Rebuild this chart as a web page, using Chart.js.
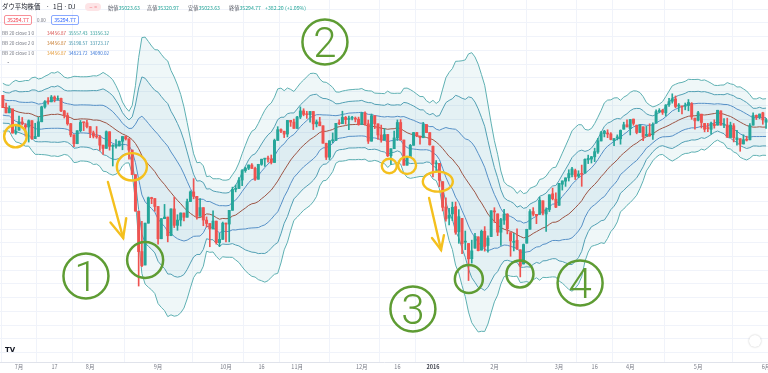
<!DOCTYPE html>
<html lang="ja"><head><meta charset="utf-8">
<script src="https://cdn.jsdelivr.net/npm/chart.js@4.4.1/dist/chart.umd.min.js"></script>
<style>
html,body{margin:0;padding:0;background:#fff;overflow:hidden}
#wrap{position:relative;width:768px;height:373px;font-family:'Noto Sans CJK JP','Noto Sans',sans-serif}
#c{position:absolute;left:0;top:0}
.t{position:absolute;white-space:nowrap;line-height:1}
.l{color:#5d606b}
.g{color:#26a69a}
.box{position:absolute;box-sizing:border-box;border-radius:2px;text-align:center;white-space:nowrap}
</style></head><body>
<div id="wrap">
<canvas id="c" width="768" height="373"></canvas>
<div class="t" style="left:2px;top:4px;font-size:6.4px;color:#131722">ダウ平均株価</div>
<div class="t" style="left:46px;top:4px;font-size:6.4px;color:#131722">·</div>
<div class="t" style="left:53px;top:4px;font-size:6.4px;color:#131722">1日</div>
<div class="t" style="left:63.5px;top:4px;font-size:6.4px;color:#131722">·</div>
<div class="t" style="left:68px;top:4px;font-size:6.4px;color:#131722">DJ</div>
<div class="box" style="left:85px;top:3px;width:16px;height:8px;border-radius:4px;background:#fde4e6;color:#f23645;font-size:5px;line-height:8px">∼ =</div>
<div class="t" style="left:108px;top:4.7px;font-size:5.2px"><span class="l">始値</span><span class="g">35023.63</span></div>
<div class="t" style="left:147px;top:4.7px;font-size:5.2px"><span class="l">高値</span><span class="g">35320.97</span></div>
<div class="t" style="left:188px;top:4.7px;font-size:5.2px"><span class="l">安値</span><span class="g">35023.63</span></div>
<div class="t" style="left:229px;top:4.7px;font-size:5.2px"><span class="l">終値</span><span class="g">35294.77</span></div>
<div class="t g" style="left:265px;top:4.7px;font-size:5.2px">+382.20 (+1.09%)</div>
<div class="box" style="left:4px;top:15px;width:28px;height:10px;border:1px solid rgba(242,54,69,0.55);color:#f23645;font-size:5.2px;line-height:8px">35294.77</div>
<div class="t" style="left:37px;top:18px;font-size:4.5px;color:#787b86">0.00</div>
<div class="box" style="left:51px;top:15px;width:28px;height:10px;border:1px solid rgba(41,98,255,0.55);color:#2962ff;font-size:5.2px;line-height:8px">35294.77</div>
<div class="t" style="left:2px;top:30.7px;font-size:4.7px;color:#787b86">BB 20 close 3 0</div>
<div class="t" style="left:47px;top:30.7px;font-size:4.6px;color:#d9534f">34456.87</div>
<div class="t" style="left:68.5px;top:30.7px;font-size:4.6px;color:#2f9c9a">35557.43</div>
<div class="t" style="left:90px;top:30.7px;font-size:4.6px;color:#2f9c9a">33356.32</div>
<div class="t" style="left:2px;top:40.7px;font-size:4.7px;color:#787b86">BB 20 close 2 0</div>
<div class="t" style="left:47px;top:40.7px;font-size:4.6px;color:#c77c2e">34456.87</div>
<div class="t" style="left:68.5px;top:40.7px;font-size:4.6px;color:#3a8fa8">35190.57</div>
<div class="t" style="left:90px;top:40.7px;font-size:4.6px;color:#3a8fa8">33723.17</div>
<div class="t" style="left:2px;top:50.7px;font-size:4.7px;color:#787b86">BB 20 close 1 0</div>
<div class="t" style="left:47px;top:50.7px;font-size:4.6px;color:#e39b3a">34456.87</div>
<div class="t" style="left:68.5px;top:50.7px;font-size:4.6px;color:#3c78d8">34823.72</div>
<div class="t" style="left:90px;top:50.7px;font-size:4.6px;color:#3c78d8">34090.02</div>
<div class="t" style="left:7px;top:61px;font-size:6px;color:#787b86">ˆ</div>
<div class="t" style="left:5px;top:347px;font-size:7px;font-weight:bold;color:#131722;font-family:'DejaVu Sans',sans-serif">TV</div>
<div class="box" style="left:749px;top:335px;width:12px;height:12px;border-radius:6px;background:#fff;box-shadow:0 0 2px rgba(0,0,0,0.25)"></div>
</div>
<script>
// ---- data (Dow daily, 2015-06-24 .. 2016-06-01) ----
// closes of the 19 sessions before the first visible bar (needed for the 20-day bands)
const warmupCloses = [18126,18011,18040,18011,18076,17905,17849,17766,17765,18000,18039,17899,17791,17905,17935,18115,17985,18120,18144];

const opens = [
18144,17966,17890,17947,17596,
17638,17758,17707,17684,17776,17515,17548,17760,17977,18053,18050,18120,18086,18100,17919,17851,17732,17569,17441,17630,17751,17746,
17690,17599,17551,17540,17420,17373,17615,17402,17403,17409,17477,17546,17512,17349,16991,16459,15872,15676,16285,16655,16643,
16528,16058,16351,16374,16102,16492,16253,16330,16433,16371,16599,16740,16675,16385,16511,16330,16280,16201,16315,16001,16049,
16285,16272,16472,16777,16790,16912,17050,17084,17131,17082,16924,17141,17216,17230,17218,17168,17489,17646,17623,17581,17780,17756,
17664,17829,17918,17868,17863,17910,17730,17758,17702,17448,17245,17484,17490,17738,17733,17824,17792,17812,17813,17798,
17720,17888,17730,17478,17848,17730,17568,17493,17575,17265,17368,17525,17750,17495,17128,17252,17418,17603,17552,17528,17720,17603,
17405,17147,17155,16889,16520,16358,16420,16526,16159,16354,16009,15989,15768,15921,16086,15893,16168,15960,16090,
16451,16420,16153,16329,16417,16147,16005,16036,15897,15691,15994,16196,16454,16414,16413,16610,16418,16484,16712,16634,
16545,16851,16896,16945,16991,17050,16969,17006,17014,17207,17217,17250,17321,17481,17589,17598,17583,17485,17526,17512,17652,17716,
17661,17799,17711,17605,17687,17555,17586,17571,17741,17905,17925,17890,18012,18059,18092,17987,17990,17987,17996,18023,17813,
17783,17871,17736,17664,17650,17726,17711,17919,17711,17713,17531,17702,17501,17514,17437,17507,17498,17711,17853,17826,17891,
17754];
const highs = [
18144,18034,17990,17947,17705,
17843,17823,17733,17787,17776,17739,17828,17987,18070,18113,18143,18137,18137,18105,17925,17888,17737,17569,17631,17779,17756,17780,
17690,17625,17691,17563,17420,17627,17615,17428,17500,17480,17546,17552,17512,17349,16991,16459,16312,16285,16666,16662,16643,
16528,16352,16558,16374,16494,16664,16408,16434,16433,16634,16755,16933,16675,16643,16511,16376,16280,16465,16315,16138,16301,
16285,16472,16809,16839,16949,17065,17101,17132,17151,17100,17142,17216,17230,17260,17277,17508,17689,17659,17623,17780,17780,17799,
17840,17977,17950,17913,17910,17910,17786,17825,17702,17448,17484,17598,17738,17788,17914,17838,17843,17841,17830,17828,
17896,17906,17785,17873,17848,17730,17712,17662,17575,17368,17624,17787,17792,17495,17256,17431,17605,17606,17552,17751,17720,17603,
17405,17196,17155,16889,16652,16500,16591,16593,16482,16354,16171,15989,16038,16136,16086,16185,16235,16102,16466,
16510,16420,16356,16485,16423,16147,16136,16201,15897,15982,16196,16484,16511,16414,16664,16610,16507,16698,16795,16726,
16865,16900,16944,17062,17099,17072,17048,17130,17220,17275,17256,17376,17521,17621,17636,17644,17602,17516,17570,17642,17754,17790,
17793,17800,17711,17716,17687,17694,17731,17744,17933,17951,17943,18009,18103,18167,18136,18026,17990,18033,18084,18039,17814,
17911,17871,17736,17737,17755,17789,17928,17919,17806,17813,17755,17734,17634,17514,17571,17550,17734,17891,17860,17873,17899,
17809];
const lows = [
17965,17888,17890,17596,17578,
17638,17714,17551,17465,17504,17515,17548,17760,17958,18018,18050,18049,18073,17909,17815,17711,17542,17399,17441,17613,17632,17669,
17530,17525,17520,17345,17285,17373,17347,17117,17375,17407,17353,17494,17215,16990,16459,15370,15651,15676,16285,16569,16458,
15980,16058,16351,16013,16102,16221,16181,16244,16318,16371,16599,16639,16344,16385,16248,16228,15942,16201,15980,15943,16049,
16013,16013,16472,16740,16790,16831,17025,17064,17080,16906,16924,17127,17111,17174,17146,17168,17489,17600,17530,17540,17693,17664,
17664,17806,17847,17810,17754,17647,17685,17702,17448,17210,17210,17454,17485,17718,17733,17725,17646,17788,17758,17710,
17720,17712,17444,17478,17661,17502,17463,17493,17253,17139,17368,17488,17494,17128,17128,17252,17418,17543,17436,17528,17601,17421,
16957,17038,16817,16463,16314,16258,16322,16123,15992,15842,15900,15450,15704,15921,15881,15893,15878,15863,16090,
16295,16103,15960,16266,16129,15803,15881,15899,15503,15691,15994,16196,16390,16278,16413,16404,16165,16454,16623,16510,
16545,16766,16820,16898,16957,16920,16947,16821,17014,17152,17160,17180,17300,17481,17540,17529,17497,17412,17496,17434,17652,17685,
17568,17710,17585,17601,17484,17555,17548,17503,17741,17890,17867,17843,17984,18031,17963,17908,17875,17934,17920,17796,17652,
17773,17670,17614,17615,17580,17667,17711,17711,17673,17534,17531,17467,17418,17331,17437,17480,17498,17711,17793,17803,17724,
17664];
const closes = [
17966,17890,17947,17596,17620,
17758,17730,17684,17776,17515,17548,17760,17977,18053,18050,18120,18086,18100,17919,17851,17731,17569,17441,17630,17751,17746,17690,
17599,17551,17540,17420,17373,17615,17402,17403,17409,17477,17546,17512,17349,16991,16460,15871,15666,16285,16655,16643,16528,
16058,16351,16374,16102,16492,16253,16330,16433,16371,16599,16740,16675,16385,16511,16330,16280,16201,16315,16001,16049,16285,
16272,16472,16777,16790,16912,17050,17084,17131,17082,16924,17141,17216,17230,17218,17168,17489,17646,17623,17581,17780,17756,17664,
17829,17918,17868,17863,17910,17730,17758,17702,17448,17245,17484,17490,17738,17733,17824,17792,17812,17813,17798,17720,
17888,17730,17478,17848,17730,17568,17493,17575,17265,17368,17525,17750,17495,17128,17252,17418,17603,17552,17528,17720,17603,17425,
17149,17158,16907,16515,16347,16399,16516,16152,16380,15988,16016,15766,15882,16094,15885,16167,15944,16069,16466,
16449,16154,16337,16417,16205,16027,16014,15914,15660,15974,16196,16454,16414,16392,16620,16432,16485,16698,16640,16517,
16865,16900,16944,17007,17074,16964,17000,16995,17213,17229,17251,17326,17481,17602,17623,17582,17503,17516,17536,17634,17717,17685,
17793,17737,17604,17716,17542,17577,17556,17721,17908,17926,17897,18004,18053,18096,17983,18004,17977,17990,18041,17831,17774,
17891,17750,17651,17660,17740,17705,17928,17711,17720,17535,17711,17530,17526,17435,17500,17492,17706,17851,17828,17873,17787,
17789];

// x-axis ticks: bar index of each labelled session, and its label
const tickIndex  = [5, 16, 27, 48, 69, 80, 91, 111, 122, 133, 152, 172, 183, 194, 215, 236];
const tickLabels = ['7月','17','8月','9月','10月','16','11月','12月','16','2016','2月','3月','16','4月','5月','6月'];

// Bollinger settings (period, multipliers)
const bbPeriod = 20;
const bbMults = [3, 2, 1];

// annotations (data space: bar index, price)
const yellowRings = [
  {i:3.9, p:17550, rx:11.3, ry:11.2},
  {i:39.9, p:17105, rx:15, ry:13.7},
  {i:119.5, p:17117, rx:7.5, ry:7.2},
  {i:125.0, p:17127, rx:9, ry:8.7},
  {i:134.5, p:16890, rx:15, ry:10}
];
const greenRings = [
  {i:44.0, p:15749, r:18},
  {i:144.1, p:15473, r:14},
  {i:159.9, p:15546, r:13.5}
];
const stepMarks = [
  {t:'1', i:25.7, p:15516},
  {t:'2', i:99.6, p:18921},
  {t:'3', i:126.8, p:15036},
  {t:'4', i:178.5, p:15415}
];
const arrows = [
  {i0:32.5, p0:16884, i1:37.2, p1:16069, head:20},
  {i0:131.8, p0:16651, i1:135.5, p1:15895, head:15}
];

// ---- build ----
const UP = '#26a69a', DOWN = '#ef5350';
const allCloses = warmupCloses.concat(closes);
const off = warmupCloses.length;
function bands(mult){
  const up = [], lo = [], mid = [];
  for (let i = 0; i < closes.length; i++) {
    const w = allCloses.slice(i + off - bbPeriod + 1, i + off + 1);
    const m = w.reduce((a,b)=>a+b,0) / w.length;
    const sd = Math.sqrt(w.reduce((a,b)=>a+(b-m)*(b-m),0) / w.length);
    mid.push({x:i, y:m}); up.push({x:i, y:m+mult*sd}); lo.push({x:i, y:m-mult*sd});
  }
  return {up, lo, mid};
}
const b3 = bands(bbMults[0]), b2 = bands(bbMults[1]), b1 = bands(bbMults[2]);
const isUp = i => closes[i] >= opens[i];
const candleColor = c => isUp(c.dataIndex) ? UP : DOWN;

const lineBase = {type:'line', pointRadius:0, borderWidth:1, tension:0};
const datasets = [
  {type:'bar', data: closes.map((_,i)=>({x:i, y:[lows[i], highs[i]]})), backgroundColor:candleColor, barThickness:1, grouped:false, order:1},
  {type:'bar', data: closes.map((_,i)=>({x:i, y:[opens[i], closes[i]]})), backgroundColor:candleColor, barThickness:2.3, minBarLength:1, grouped:false, order:0},
  {...lineBase, data:b3.up, borderColor:'#5eb0b2', fill:{target:3, above:'rgba(110,185,190,0.11)', below:'rgba(110,185,190,0.11)'}, order:3},
  {...lineBase, data:b3.lo, borderColor:'#5eb0b2', fill:false, order:3},
  {...lineBase, data:b2.up, borderColor:'#4f9db2', fill:{target:5, above:'rgba(90,165,185,0.08)', below:'rgba(90,165,185,0.08)'}, order:3},
  {...lineBase, data:b2.lo, borderColor:'#4f9db2', fill:false, order:3},
  {...lineBase, data:b1.up, borderColor:'#5289c8', fill:{target:7, above:'rgba(90,140,200,0.04)', below:'rgba(90,140,200,0.04)'}, order:3},
  {...lineBase, data:b1.lo, borderColor:'#5289c8', fill:false, order:3},
  {...lineBase, data:b1.mid, borderColor:'#9c5444', fill:false, order:2}
];

const annoPlugin = {
  id:'anno',
  afterDraw(chart){
    const {ctx, scales:{x, y}} = chart;
    ctx.save();
    ctx.lineCap = 'round';
    ctx.strokeStyle = '#f4c01e'; ctx.lineWidth = 2.4;
    yellowRings.forEach(a => {
      ctx.beginPath();
      ctx.ellipse(x.getPixelForValue(a.i), y.getPixelForValue(a.p), a.rx, a.ry, 0, 0, Math.PI*2);
      ctx.stroke();
    });
    arrows.forEach(a => {
      const x0 = x.getPixelForValue(a.i0), y0 = y.getPixelForValue(a.p0);
      const x1 = x.getPixelForValue(a.i1), y1 = y.getPixelForValue(a.p1);
      const ang = Math.atan2(y1 - y0, x1 - x0);
      ctx.beginPath(); ctx.moveTo(x0, y0); ctx.lineTo(x1, y1); ctx.stroke();
      ctx.beginPath();
      ctx.moveTo(x1 - a.head*Math.cos(ang - 0.42), y1 - a.head*Math.sin(ang - 0.42));
      ctx.lineTo(x1, y1);
      ctx.lineTo(x1 - a.head*Math.cos(ang + 0.42), y1 - a.head*Math.sin(ang + 0.42));
      ctx.stroke();
    });
    ctx.strokeStyle = '#5e9c33'; ctx.lineWidth = 2.5;
    greenRings.forEach(a => {
      ctx.beginPath();
      ctx.arc(x.getPixelForValue(a.i), y.getPixelForValue(a.p), a.r, 0, Math.PI*2);
      ctx.stroke();
    });
    ctx.fillStyle = '#5e9c33';
    ctx.font = '300 42px Roboto, "Noto Sans", sans-serif';
    ctx.textAlign = 'center'; ctx.textBaseline = 'alphabetic';
    stepMarks.forEach(a => {
      const cx = x.getPixelForValue(a.i), cy = y.getPixelForValue(a.p);
      ctx.beginPath(); ctx.arc(cx, cy, 22.5, 0, Math.PI*2); ctx.stroke();
      ctx.fillText(a.t, cx, cy + 15);
    });
    ctx.restore();
  }
};

const gridValues = [];
for (let v = 14400; v <= 19400; v += 200) gridValues.push(v);

new Chart(document.getElementById('c'), {
  type:'bar',
  data:{datasets},
  options:{
    responsive:false, animation:false, normalized:true,
    layout:{padding:0},
    plugins:{legend:{display:false}, tooltip:{enabled:false}},
    scales:{
      x:{
        type:'linear', min:-0.875, max:236.6, offset:false,
        afterBuildTicks: s => { s.ticks = tickIndex.map(v => ({value:v})); },
        afterFit: s => { s.height = 11; s.paddingLeft = 0; s.paddingRight = 0; },
        ticks:{
          autoSkip:false, maxRotation:0, padding:2,
          callback:(v, i) => tickLabels[i],
          color: c => tickLabels[c.index] === '2016' ? '#434651' : '#787b86',
          font: c => ({family:"'Noto Sans CJK JP', 'Noto Sans', sans-serif", size:5.5, weight: tickLabels[c.index] === '2016' ? 'bold' : 'normal'})
        },
        grid:{color:'#f0f3fa', drawTicks:false},
        border:{color:'#e0e3eb'}
      },
      y:{
        type:'linear', position:'right', min:14265, max:19532,
        afterBuildTicks: s => { s.ticks = gridValues.map(v => ({value:v})); },
        afterFit: s => { s.width = 0; s.paddingTop = 0; s.paddingBottom = 0; },
        ticks:{display:false},
        grid:{color:'#f0f3fa', drawTicks:false},
        border:{display:false}
      }
    }
  },
  plugins:[annoPlugin]
});
</script>
</body></html>
